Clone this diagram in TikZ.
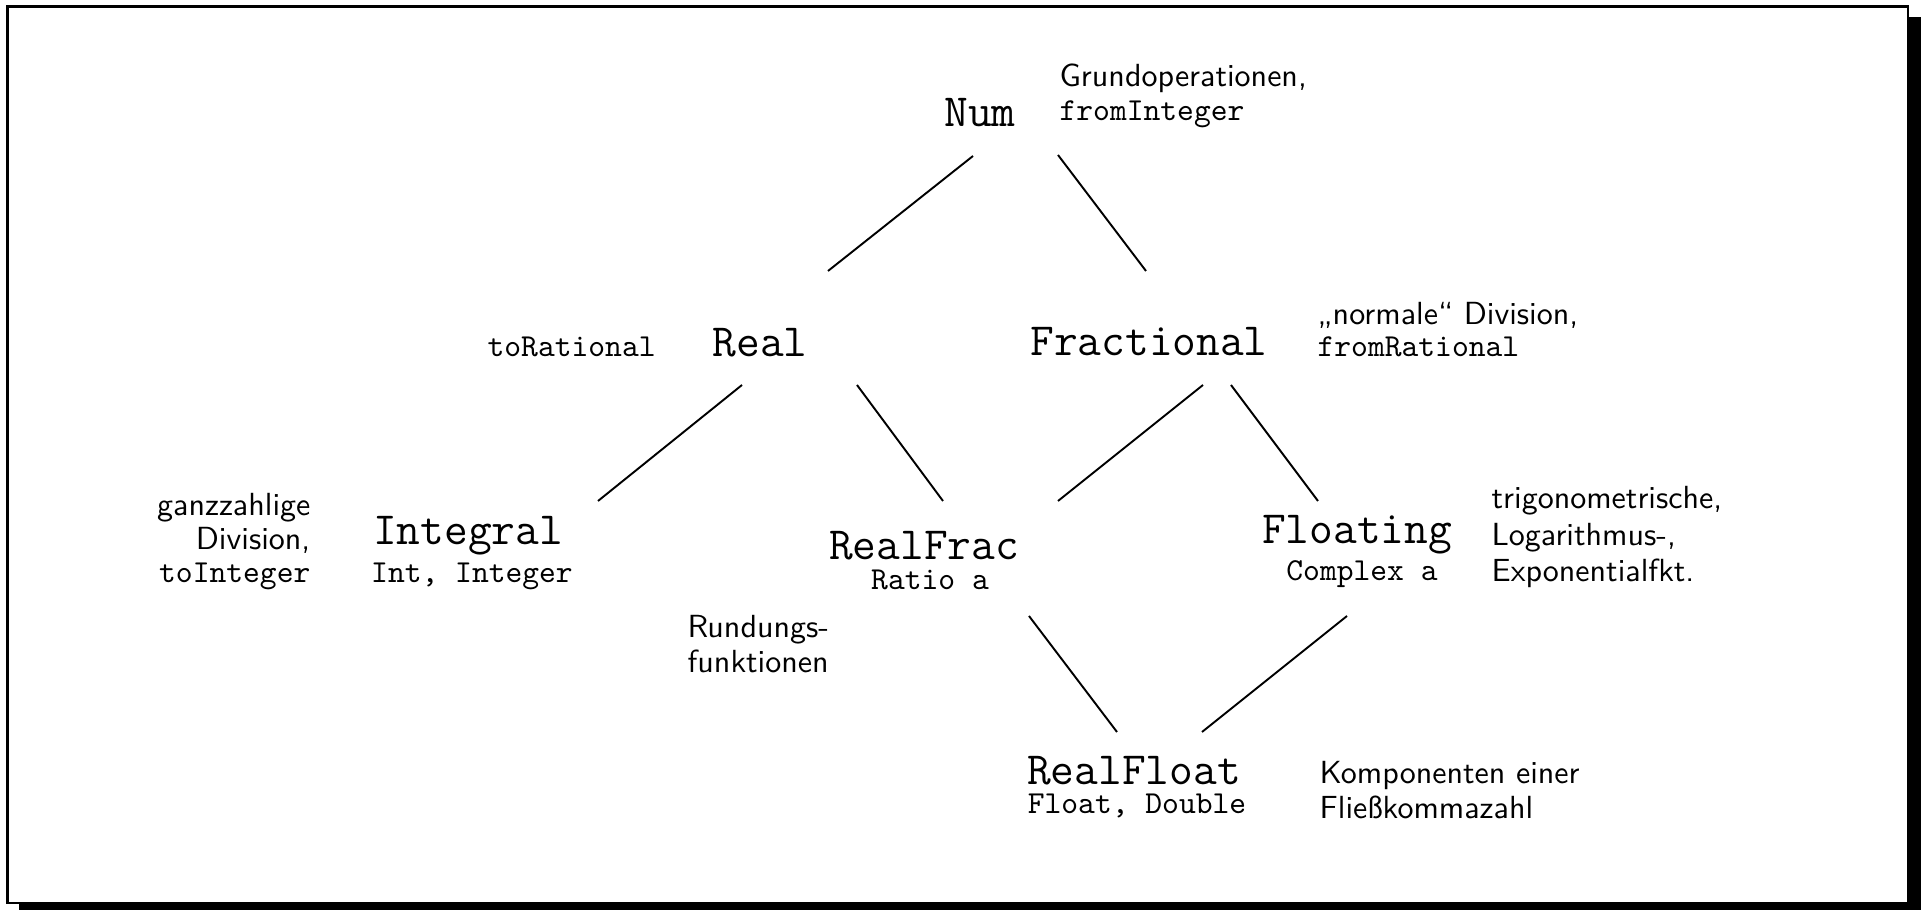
\documentclass[tikz,border=0pt]{standalone}
\begin{document}
\begin{tikzpicture}[x=0.3125pt,y=-0.3125pt,
  cls/.style={font=\ttfamily\Large, anchor=base, inner sep=0pt},
  typ/.style={font=\ttfamily, anchor=base, inner sep=0pt},
  note/.style={font=\sffamily\renewcommand\arraystretch{#1}, inner sep=0pt},
  note/.default=0.87,
  edge/.style={line width=0.6pt}]
\useasboundingbox (0,0) rectangle (1925,910);
% shadow box
\fill[black] (19,17) rectangle (1921,916);
\filldraw[fill=white, draw=black, line width=0.8pt] (7.5,6.5) rectangle (1908,903);

% class nodes
\node[cls] (num) at (980,127) {Num};
\node[cls] (real) at (760,357) {Real};
\node[cls] (frac) at (1149,356) {Fractional};
\node[cls] (integral) at (468,545) {Integral};
\node[typ] (integralT) at (472,583) {Int, Integer};
\node[cls] (realfrac) at (924,560) {RealFrac};
\node[typ] (realfracT) at (930,590) {Ratio a};
\node[cls] (floating) at (1357,544) {Floating};
\node[typ] (floatingT) at (1362,581) {Complex a};
\node[cls] (realfloat) at (1134,785) {RealFloat};
\node[typ] (realfloatT) at (1137,814) {Float, Double};

% notes
\node[note=0.86, anchor=base west] (nNum) at (1059,87)
  {\begin{tabular}[t]{@{}l@{}}Grundoperationen,\\\texttt{fromInteger}\end{tabular}};
\node[typ, anchor=base west] (nReal) at (487,357) {toRational};
\node[note=0.84, anchor=base west] (nFrac) at (1317,324.5)
  {\begin{tabular}[t]{@{}l@{}}„normale“ Division,\\\texttt{fromRational}\end{tabular}};
\node[note=0.86, anchor=base east] (nIntegral) at (311,516)
  {\begin{tabular}[t]{@{}r@{}}ganzzahlige\\Division,\\\texttt{toInteger}\end{tabular}};
\node[note=0.91, anchor=base west] (nRealFrac) at (687,638)
  {\begin{tabular}[t]{@{}l@{}}Rundungs-\\funktionen\end{tabular}};
\node[note=0.95, anchor=base west] (nFloating) at (1491,509)
  {\begin{tabular}[t]{@{}l@{}}trigonometrische,\\Logarithmus-,\\Exponentialfkt.\end{tabular}};
\node[note=0.89, anchor=base west] (nRealFloat) at (1319,784)
  {\begin{tabular}[t]{@{}l@{}}Komponenten einer\\Fließkommazahl\end{tabular}};

% connector end points
\coordinate (numSW) at (973,156);   \coordinate (realN)  at (828,271);
\coordinate (numSE) at (1058,155);  \coordinate (fracN)  at (1146,271);
\coordinate (realSW) at (742,385);  \coordinate (integralN) at (598,501);
\coordinate (realSE) at (857,385);  \coordinate (realfracNW) at (943,501);
\coordinate (fracSW) at (1203,385); \coordinate (realfracNE) at (1058,501);
\coordinate (fracSE) at (1231,385); \coordinate (floatingN) at (1318,501);
\coordinate (realfracS) at (1029,616); \coordinate (realfloatNW) at (1117,732);
\coordinate (floatingS) at (1347,616); \coordinate (realfloatNE) at (1202,732);

\draw[edge] (numSW) -- (realN);
\draw[edge] (numSE) -- (fracN);
\draw[edge] (realSW) -- (integralN);
\draw[edge] (realSE) -- (realfracNW);
\draw[edge] (fracSW) -- (realfracNE);
\draw[edge] (fracSE) -- (floatingN);
\draw[edge] (realfracS) -- (realfloatNW);
\draw[edge] (floatingS) -- (realfloatNE);
\end{tikzpicture}
\end{document}
